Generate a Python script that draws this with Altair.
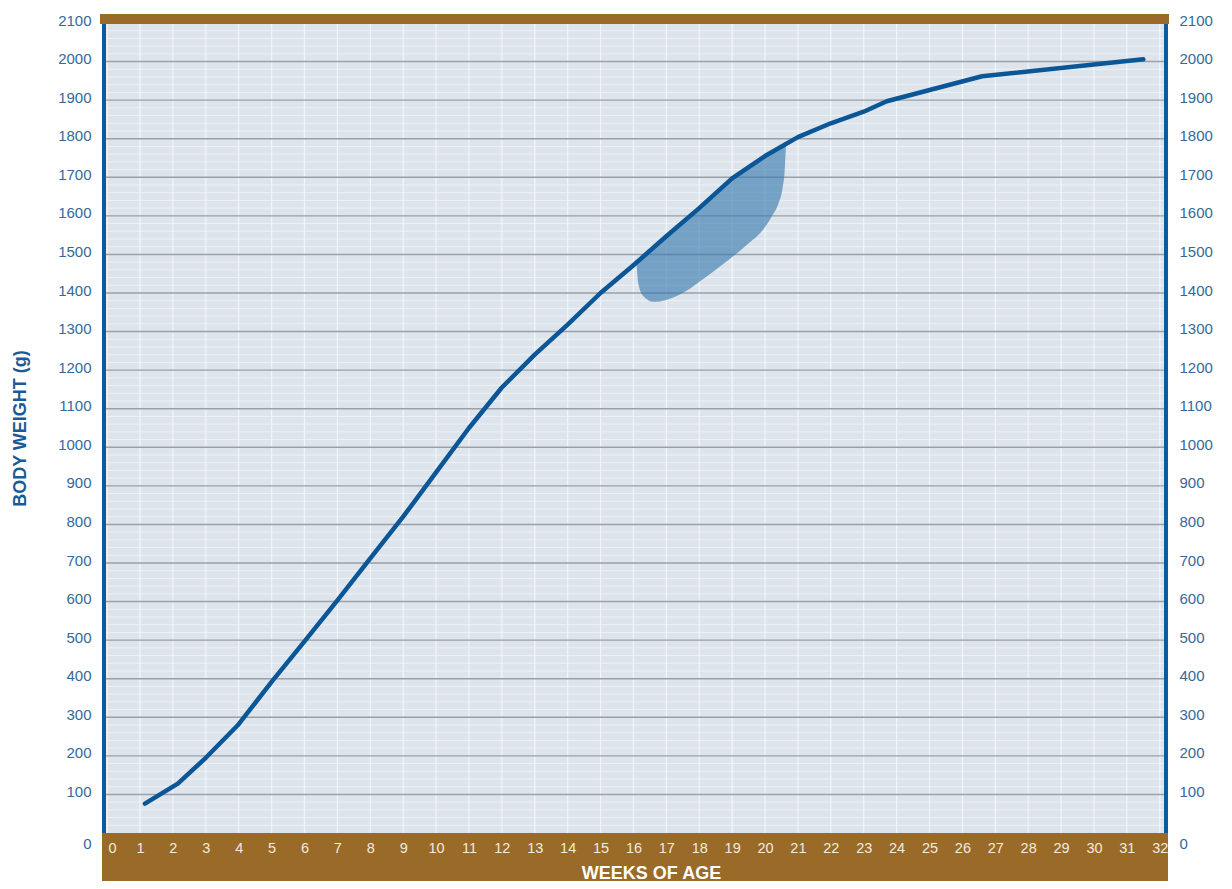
import altair as alt
import pandas as pd

# ---- data ----
weeks = [1.15, 2.15, 3, 4, 5, 6, 7, 8, 9, 10, 11, 12, 13, 14, 15, 16, 17, 18, 19, 20, 21, 22, 23, 23.7, 26.6, 31.5]
weights = [76, 128, 195, 282, 392, 497, 603, 712, 820, 935, 1050, 1155, 1240, 1318, 1400, 1472, 1547, 1620, 1697, 1755, 1804, 1840, 1870, 1897, 1962, 2006]

shade_weeks = [16.10, 16.12, 16.16, 16.30, 16.60, 17.00, 17.60, 18.10, 18.60, 19.10, 19.45, 19.95, 20.20, 20.40, 20.53, 20.60, 20.64]
shade_low = [1470, 1445, 1420, 1392, 1377, 1382, 1405, 1435, 1467, 1500, 1525, 1565, 1598, 1630, 1670, 1720, 1790]
shade_high = [1470, 1473, 1477, 1494, 1517, 1547, 1591, 1628, 1666, 1703, 1723, 1752, 1765, 1775, 1781, 1784, 1790]

x_ticks = list(range(0, 33))
y_ticks = list(range(0, 2101, 100))
y_major_grid = list(range(100, 2001, 100))
y_minor_grid = [v for v in range(20, 2100, 20) if v % 100 != 0]

W, H = 1064, 810
BROWN = "#9a6a28"
BLUE = "#0b5697"
LABEL_BLUE = "#35699a"

line_df = pd.DataFrame({"week": weeks, "weight": weights})
shade_df = pd.DataFrame({"week": shade_weeks, "low": shade_low, "high": shade_high})
xgrid_df = pd.DataFrame({"week": x_ticks})
ymaj_df = pd.DataFrame({"weight": y_major_grid})
ymin_df = pd.DataFrame({"weight": y_minor_grid})
ylab_df = pd.DataFrame({"weight": y_ticks})
one = pd.DataFrame({"k": [0]})

xs = alt.Scale(domain=[-0.125, 32.22], nice=False, zero=False)
ys = alt.Scale(domain=[0, 2100], nice=False, zero=False)

x_axis = alt.Axis(
    values=x_ticks,
    format="d",
    grid=False,
    ticks=False,
    tickSize=0,
    domain=False,
    labelColor="#f3ebdc",
    labelFont="Liberation Sans Narrow, Liberation Sans",
    labelFontSize=14.5,
    labelPadding=8,
    labelFlush=False,
    labelOverlap=False,
    labelOffset={"condition": {"test": "datum.value == 0", "value": 5}, "value": 0},
    title="WEEKS OF AGE",
    titleColor="white",
    titleFont="Liberation Sans",
    titleFontSize=18,
    titleFontWeight="bold",
    titleX=548,
    titleY=40,
    titleAlign="center",
    titleBaseline="middle",
    zindex=1,
)


def y_axis(orient, title):
    kw = dict(
        orient=orient,
        values=y_ticks,
        format="d",
        grid=False,
        ticks=False,
        tickSize=0,
        domain=False,
        labelPadding=12,
        labelFont="Liberation Sans, Arial",
        labelFontSize=15,
        labelColor=LABEL_BLUE,
        labelOverlap=False,
        labelFlush=False,
        labelOffset={"condition": {"test": "datum.value == 0", "value": 10}, "value": -3},
        zindex=1,
    )
    if title:
        kw.update(
            title=title,
            titleFont="Liberation Sans",
            titleFontSize=18,
            titleFontWeight="bold",
            titleColor="#1a5a96",
            titleX=-83,
            titleY=405,
            titleAngle=270,
            titleAlign="center",
            titleBaseline="middle",
        )
    else:
        kw.update(title=None)
    return alt.Axis(**kw)


minor = alt.Chart(ymin_df).mark_rule(color="white", strokeWidth=1, opacity=0.5).encode(
    y=alt.Y("weight:Q", scale=ys, axis=None)
)
vgrid = alt.Chart(xgrid_df).mark_rule(color="#f3f6f9", strokeWidth=1.3, opacity=0.9).encode(
    x=alt.X("week:Q", scale=xs, axis=x_axis)
)
major = alt.Chart(ymaj_df).mark_rule(color="#9aa1a8", strokeWidth=1.4).encode(
    y=alt.Y("weight:Q", scale=ys, axis=None)
)

right_axis_layer = alt.Chart(ylab_df).mark_point(opacity=0).encode(
    y=alt.Y("weight:Q", scale=ys, axis=y_axis("right", None))
)

shade = alt.Chart(shade_df).mark_area(color="#3578af", opacity=0.62, interpolate="monotone").encode(
    x=alt.X("week:Q", scale=xs, axis=x_axis),
    y=alt.Y("high:Q", scale=ys, axis=None),
    y2="low:Q",
)

line = alt.Chart(line_df).mark_line(
    color=BLUE, strokeWidth=4.5, strokeCap="round", strokeJoin="round"
).encode(
    x=alt.X("week:Q", scale=xs, axis=x_axis),
    y=alt.Y("weight:Q", scale=ys, axis=y_axis("left", "BODY WEIGHT (g)")),
)

left_border = alt.Chart(one).mark_rule(color="#0d5a9e", strokeWidth=4).encode(
    x=alt.value(1), y=alt.value(0), y2=alt.value(H)
)
right_border = alt.Chart(one).mark_rule(color="#0d5a9e", strokeWidth=4).encode(
    x=alt.value(W - 1), y=alt.value(0), y2=alt.value(H)
)
top_bar = alt.Chart(one).mark_rect(color=BROWN).encode(
    x=alt.value(-3), x2=alt.value(W + 2), y=alt.value(-9), y2=alt.value(1)
)
bottom_bar = alt.Chart(one).mark_rect(color=BROWN).encode(
    x=alt.value(-1), x2=alt.value(W + 1), y=alt.value(H), y2=alt.value(H + 60)
)

chart = (
    alt.layer(
        minor, vgrid, major, right_axis_layer, shade, line,
        left_border, right_border, top_bar, bottom_bar
    )
    .resolve_axis(y="independent")
    .properties(
        width=W,
        height=H,
        autosize=alt.AutoSizeParams(type="none"),
        padding={"left": 95, "top": 15, "right": 55, "bottom": 48},
        background="white",
    )
    .configure_view(fill="#dde4eb", strokeWidth=0)
)

chart.save("out.html", embed_options={"renderer": "svg", "actions": False})
